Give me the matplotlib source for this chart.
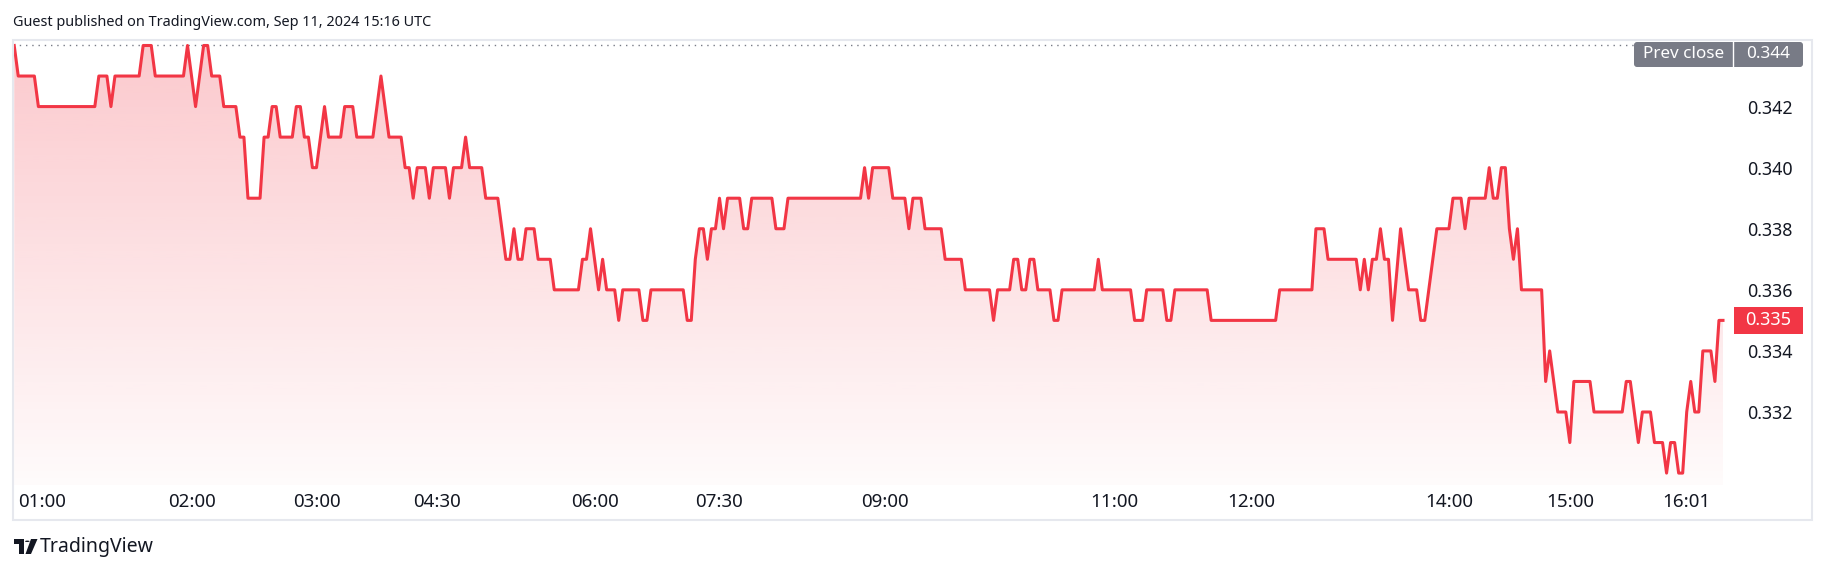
import numpy as np
import matplotlib
matplotlib.use("Agg")
import matplotlib.pyplot as plt
from matplotlib.patches import Rectangle, Polygon, Circle, FancyBboxPatch
from matplotlib.transforms import blended_transform_factory

plt.rcParams['font.family'] = ['Noto Sans', 'DejaVu Sans']

# ------------------------------------------------------------
# Data (bar number -> last price)
# ------------------------------------------------------------
bar_idx = [
    0, 1, 5, 6, 20, 21, 23, 24, 25, 31, 32, 34, 35, 42, 43, 45, 47, 48, 49, 51,
    52, 55, 56, 57, 58, 61, 62, 63, 64, 65, 66, 69, 70, 71, 72, 73, 74, 75, 77, 78,
    81, 82, 84, 85, 89, 91, 93, 96, 97, 98, 99, 100, 102, 103, 104, 107, 108, 109, 111, 112,
    113, 116, 117, 120, 122, 123, 124, 125, 126, 127, 129, 130, 133, 134, 140, 141, 142, 143, 145, 146,
    147, 149, 150, 151, 155, 156, 157, 158, 166, 167, 168, 169, 170, 171, 172, 173, 174, 175, 176, 177,
    180, 181, 182, 183, 188, 189, 191, 192, 210, 211, 212, 213, 217, 218, 221, 222, 223, 225, 226, 230,
    231, 235, 236, 242, 243, 244, 247, 248, 249, 250, 251, 252, 253, 254, 257, 258, 259, 260, 268, 269,
    270, 277, 278, 280, 281, 285, 286, 287, 288, 296, 297, 313, 314, 322, 323, 325, 326, 333, 334, 335,
    336, 337, 338, 339, 340, 341, 342, 344, 346, 348, 349, 350, 353, 356, 357, 359, 360, 361, 365, 366,
    367, 368, 369, 370, 371, 372, 373, 374, 379, 380, 381, 383, 385, 386, 387, 391, 392, 399, 400, 401,
    403, 404, 406, 407, 409, 410, 411, 412, 413, 414, 415, 416, 417, 418, 419, 421, 422, 423, 424,
]
price = [
    .344, .343, .343, .342, .342, .343, .343, .342, .343, .343, .344, .344, .343, .343, .344, .342, .344, .344, .343, .343,
    .342, .342, .341, .341, .339, .339, .341, .341, .342, .342, .341, .341, .342, .342, .341, .341, .340, .340, .342, .341,
    .341, .342, .342, .341, .341, .343, .341, .341, .340, .340, .339, .340, .340, .339, .340, .340, .339, .340, .340, .341,
    .340, .340, .339, .339, .337, .337, .338, .337, .337, .338, .338, .337, .337, .336, .336, .337, .337, .338, .336, .337,
    .336, .336, .335, .336, .336, .335, .335, .336, .336, .335, .335, .337, .338, .338, .337, .338, .338, .339, .338, .339,
    .339, .338, .338, .339, .339, .338, .338, .339, .339, .340, .339, .340, .340, .339, .339, .338, .339, .339, .338, .338,
    .337, .337, .336, .336, .335, .336, .336, .337, .337, .336, .336, .337, .337, .336, .336, .335, .335, .336, .336, .337,
    .336, .336, .335, .335, .336, .336, .335, .335, .336, .336, .335, .335, .336, .336, .338, .338, .337, .337, .336, .337,
    .336, .337, .337, .338, .337, .337, .335, .338, .336, .336, .335, .335, .338, .338, .339, .339, .338, .339, .339, .340,
    .339, .339, .340, .340, .338, .337, .338, .336, .336, .333, .334, .332, .332, .331, .333, .333, .332, .332, .333, .333,
    .331, .332, .332, .331, .331, .330, .331, .331, .330, .330, .332, .333, .332, .332, .334, .334, .333, .335, .335,
]

time_tick_bars = [7, 44, 75, 105, 144, 175, 216, 273, 307, 356, 386, 415]
time_tick_labels = ["01:00", "02:00", "03:00", "04:30", "06:00", "07:30",
                    "09:00", "11:00", "12:00", "14:00", "15:00", "16:01"]
price_ticks = [0.332, 0.334, 0.336, 0.338, 0.340, 0.342]
prev_close = 0.344
title = "Guest published on TradingView.com, Sep 11, 2024 15:16 UTC"

RED = "#f23645"
GRAY = "#787b86"
TEXT = "#131722"

# ------------------------------------------------------------
# Figure / layout (pixel based)
# ------------------------------------------------------------
W, H = 1827, 574
fig = plt.figure(figsize=(W / 100, H / 100), dpi=100)
fig.patch.set_facecolor("white")

def fx(px):
    return px / W

def fy(py):
    return 1 - py / H

def inch_box(x0, y0, x1, y1, color, r=0.03):
    # box given in pixel coords (top-left origin), drawn in inches
    return FancyBboxPatch((x0 / 100, (H - y1) / 100), (x1 - x0) / 100, (y1 - y0) / 100,
                          boxstyle=f"round,pad=0,rounding_size={r}",
                          transform=fig.dpi_scale_trans, facecolor=color,
                          edgecolor="none", zorder=5)

pane_l, pane_r, pane_t, pane_b = 13, 1725, 40, 485
ax = fig.add_axes([fx(pane_l), fy(pane_b), fx(pane_r - pane_l), (pane_b - pane_t) / H])

y_lo, y_hi = 0.32961, 0.34418
x_lo, x_hi = -0.3, 424.5
ax.set_xlim(x_lo, x_hi)
ax.set_ylim(y_lo, y_hi)

# container border
fig.patches.append(Rectangle((fx(13), fy(520)), fx(1812 - 13), (520 - 40) / H,
                             transform=fig.transFigure, fill=False,
                             edgecolor="#e6e8ee", linewidth=1.5, zorder=0))

# gradient area under the line
top = max(price)
n = 256
alpha = np.linspace(0.27, 0.02, n)
grad = np.zeros((n, 1, 4))
grad[..., 0] = 242 / 255
grad[..., 1] = 54 / 255
grad[..., 2] = 69 / 255
grad[:, 0, 3] = alpha
im = ax.imshow(grad, extent=(x_lo, x_hi, y_lo, top), aspect="auto",
               origin="upper", interpolation="bilinear", zorder=1)
area = ax.fill_between(bar_idx, price, y_lo, facecolor="none", edgecolor="none")
im.set_clip_path(area.get_paths()[0], transform=ax.transData)

ax.plot(bar_idx, price, color=RED, linewidth=2.2, solid_joinstyle="round", zorder=3)

# previous close dotted line
ax.axhline(prev_close, xmin=0, xmax=(1634 - pane_l) / (pane_r - pane_l),
           color=GRAY, linewidth=1, linestyle=(0, (1, 3.5)), zorder=2)

# axes styling
for s in ax.spines.values():
    s.set_visible(False)
ax.set_facecolor("none")
ax.set_xticks(time_tick_bars)
ax.set_xticklabels(time_tick_labels)
ax.tick_params(axis="x", length=0, pad=6, labelsize=13.5, labelcolor=TEXT)
ax.yaxis.tick_right()
ax.set_yticks(price_ticks)
ax.set_yticklabels([f"{v:.3f}" for v in price_ticks])
ax.tick_params(axis="y", length=0, pad=16, labelsize=12.8, labelcolor=TEXT)

# last price label
last = price[-1]
tr = blended_transform_factory(fig.transFigure, ax.transData)
half = 13.5 / ((pane_b - pane_t) / (y_hi - y_lo))
ax.add_patch(Rectangle((fx(1734), last - half), fx(69), 2 * half, transform=tr,
                       facecolor=RED, edgecolor="none", clip_on=False, zorder=5))
ax.text(fx(1768.5), last, f"{last:.3f}", transform=tr, ha="center", va="center",
        color="white", fontsize=13, fontweight="bold", zorder=6)

# prev close label
fig.patches.append(inch_box(1634, 42, 1803, 67, GRAY))
fig.lines.append(plt.Line2D([fx(1733), fx(1733)], [fy(67), fy(42)], transform=fig.transFigure,
                            color="white", linewidth=1, zorder=6))
fig.text(fx(1683.5), fy(54.5), "Prev close", ha="center", va="center", color="white",
         fontsize=12.3, fontweight="semibold", zorder=7)
fig.text(fx(1768), fy(54.5), f"{prev_close:.3f}", ha="center", va="center", color="white",
         fontsize=12.3, fontweight="semibold", zorder=7)

# header
fig.text(fx(13), fy(23), title, ha="left", va="center", color=TEXT, fontsize=10.4)

# footer logo
fig.patches.append(Rectangle((fx(14), fy(543.5)), fx(10), 4.5 / H, transform=fig.transFigure,
                             facecolor=TEXT, edgecolor="none"))
fig.patches.append(Rectangle((fx(18.5), fy(554)), fx(5), 15 / H, transform=fig.transFigure,
                             facecolor=TEXT, edgecolor="none"))
fig.patches.append(Polygon([(fx(31), fy(539)), (fx(37.5), fy(539)), (fx(31), fy(554)), (fx(25.5), fy(554))],
                           closed=True, transform=fig.transFigure, facecolor=TEXT, edgecolor="none"))
fig.patches.append(Circle((fx(27.3), fy(541.3)), fx(2.3), transform=fig.transFigure,
                          facecolor=TEXT, edgecolor="none"))
fig.text(fx(40), fy(547), "TradingView", ha="left", va="center", color=TEXT, fontsize=14)

fig.savefig("out.png", dpi=100, facecolor="white")
